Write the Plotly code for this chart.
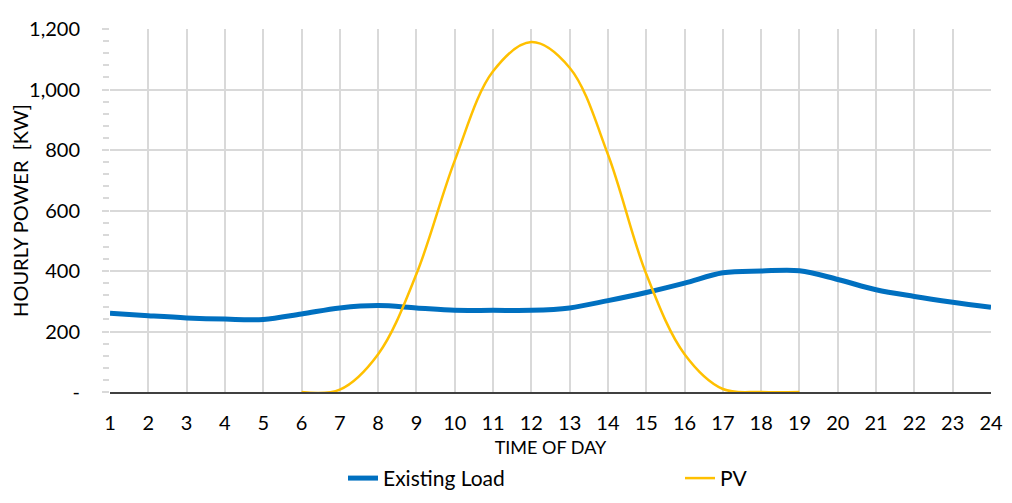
import plotly.graph_objects as go

# hours of the day
hours = list(range(1, 25))

# existing load [kW] per hour
existing_load = [260, 252, 245, 241, 240, 258, 278, 286, 278, 270, 270, 270,
                 278, 302, 329, 360, 394, 400, 401, 372, 338, 316, 297, 280]

# PV output [kW], no data before 6 and after 19
pv = [None, None, None, None, None, 0, 8, 125, 390, 765, 1060, 1157,
      1072, 785, 390, 125, 10, 0, 0, None, None, None, None, None]

y_ticks = [0, 200, 400, 600, 800, 1000, 1200]
y_labels = ['-', '200', '400', '600', '800', '1,000', '1,200']

FONT = 'Lato'
GRID = '#d9d9d9'

fig = go.Figure()
fig.add_trace(go.Scatter(x=hours, y=existing_load, name='Existing Load', legend='legend',
                         mode='lines', line=dict(color='#0070C0', width=5, shape='spline', smoothing=1.0)))
fig.add_trace(go.Scatter(x=hours, y=pv, name='PV', legend='legend2',
                         mode='lines', line=dict(color='#FFC000', width=2.5, shape='spline', smoothing=1.0)))

# one legend per series so each entry can sit where Excel put it
leg = dict(orientation='h', xanchor='left', yref='container', y=0.034, yanchor='middle',
           font=dict(size=21, family=FONT), bgcolor='rgba(0,0,0,0)')

# page body has an 8px margin, so the figure is made 16px smaller
fig.update_layout(
    width=996, height=487,
    margin=dict(l=102, r=13, t=21, b=103),
    paper_bgcolor='white', plot_bgcolor='white',
    font=dict(family=FONT, color='black'),
    showlegend=True,
    legend=dict(leg, x=0.2645),
    legend2=dict(leg, x=0.647),
)
fig.update_xaxes(
    range=[1, 24], tickmode='array', tickvals=hours,
    showgrid=True, gridcolor=GRID, gridwidth=1.5,
    showline=True, linecolor='#404040', linewidth=2,
    ticks='', ticklabelstandoff=12,
    tickfont=dict(size=20, family=FONT),
    title=dict(text='TIME OF DAY', font=dict(size=18, family=FONT), standoff=14),
    zeroline=False, automargin=False,
)
fig.update_yaxes(
    range=[0, 1200], tickmode='array', tickvals=y_ticks, ticktext=y_labels,
    showgrid=True, gridcolor=GRID, gridwidth=1.5,
    ticks='outside', ticklen=7, tickcolor=GRID, tickwidth=1.5,
    minor=dict(dtick=40, ticks='outside', ticklen=6, tickcolor=GRID, tickwidth=1.5, showgrid=False),
    tickfont=dict(size=20, family=FONT), ticklabelstandoff=18,
    title=dict(text='HOURLY POWER  [KW]', font=dict(size=20, family=FONT), standoff=0),
    showline=False, zeroline=False, automargin=False,
)

fig.write_html("out.html")
